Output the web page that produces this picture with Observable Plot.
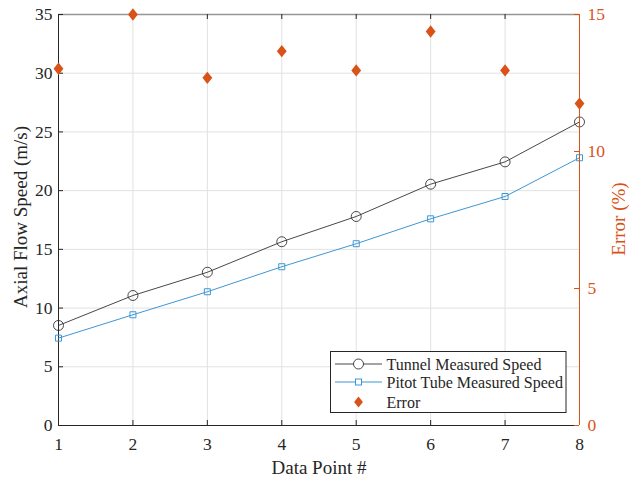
<!DOCTYPE html>
<html><head><meta charset="utf-8">
<script src="https://cdn.jsdelivr.net/npm/d3@7"></script>
<script src="https://cdn.jsdelivr.net/npm/@observablehq/plot@0.6"></script>
<style>
body{margin:0;background:#fff;}
#wrap{position:relative;width:629px;height:479px;font-family:'Liberation Serif','Times New Roman',serif;}
#wrap > svg{position:absolute;left:0;top:0;}
#wrap text{font-family:'Liberation Serif','Times New Roman',serif;}
</style></head><body><div id="wrap"></div>
<script>
// ---- data ----
const points   = [1, 2, 3, 4, 5, 6, 7, 8];
const tunnel   = [8.52, 11.07, 13.05, 15.65, 17.8, 20.55, 22.45, 25.85];
const pitot    = [7.44, 9.43, 11.39, 13.52, 15.48, 17.6, 19.5, 22.8];
const errorPct = [13.02, 15.0, 12.69, 13.66, 12.96, 14.38, 12.96, 11.75];
const speedTicks = [0, 5, 10, 15, 20, 25, 30, 35];
const errorTicks = [0, 5, 10, 15];
const xLabel = "Data Point #";
const yLabelLeft = "Axial Flow Speed (m/s)";
const yLabelRight = "Error (%)";
const seriesNames = ["Tunnel Measured Speed", "Pitot Tube Measured Speed", "Error"];

// ---- layout/style ----
const W = 629, H = 479, mL = 58, mR = 50, mT = 14, mB = 54;
const pW = W - mL - mR, pH = H - mT - mB;
const ORANGE = "#D95319", BLUE = "#3d97d6", DARK = "#262626", GRID = "#e1e1e1";
const FONT = "'Liberation Serif', 'Times New Roman', serif";

const tunnelData = points.map((p, i) => ({p, v: tunnel[i]}));
const pitotData = points.map((p, i) => ({p, v: pitot[i]}));
const errData = points.map((p, i) => ({p, v: errorPct[i]}));

const diamond = {
  draw(ctx, size) {
    const h = Math.sqrt(size) * 0.62, w = h * 0.8;
    ctx.moveTo(0, -h); ctx.lineTo(w, 0); ctx.lineTo(0, h); ctx.lineTo(-w, 0); ctx.closePath();
  }
};

const common = {
  width: W, height: H, marginLeft: mL, marginRight: mR, marginTop: mT, marginBottom: mB,
  style: {"font-family": FONT, "background": "transparent", "overflow": "visible"}
};

const left = Plot.plot({
  ...common,
  x: {domain: [1, 8]},
  y: {domain: [0, 35]},
  marks: [
    Plot.ruleX(points, {x: d => d, stroke: GRID}),
    Plot.ruleY(speedTicks, {y: d => d, stroke: GRID}),
    Plot.ruleY([35], {y: d => d, stroke: "#969696", strokeWidth: 1.5}),
    Plot.tickX(points, {x: d => d, stroke: DARK, insetTop: pH - 5}),
    Plot.tickX(points, {x: d => d, stroke: DARK, insetBottom: pH - 5}),
    Plot.tickY(speedTicks, {y: d => d, stroke: DARK, insetRight: pW - 5}),
    Plot.ruleX([1], {x: d => d, stroke: DARK}),
    Plot.ruleY([0], {y: d => d, stroke: DARK}),
    Plot.axisX(points, {tickSize: 0, tickPadding: 12, fontSize: 17.5, fill: DARK, label: null}),
    Plot.axisY(speedTicks, {tickSize: 0, tickPadding: 6, fontSize: 17.5, fill: DARK, label: null}),
    Plot.text([xLabel], {frameAnchor: "bottom", dy: 48, text: d => d, fontSize: 19, fill: DARK, lineAnchor: "bottom", textAnchor: "middle"}),
    Plot.text([yLabelLeft], {frameAnchor: "left", dx: -38, dy: -3, rotate: -90, text: d => d, fontSize: 19, fill: DARK, textAnchor: "middle", lineAnchor: "middle"}),
    Plot.line(pitotData, {x: "p", y: "v", stroke: BLUE, strokeWidth: 1}),
    Plot.dot(pitotData, {x: "p", y: "v", symbol: "square", r: 3.4, stroke: BLUE, fill: "none", strokeWidth: 1}),
    Plot.line(tunnelData, {x: "p", y: "v", stroke: "#333", strokeWidth: 0.9}),
    Plot.dot(tunnelData, {x: "p", y: "v", r: 5, stroke: "#333", fill: "none", strokeWidth: 0.9})
  ]
});

const right = Plot.plot({
  ...common,
  x: {domain: [1, 8], axis: null},
  y: {domain: [0, 15], axis: null},
  marks: [
    Plot.ruleX([8], {x: d => d, stroke: ORANGE}),
    Plot.tickY(errorTicks, {y: d => d, stroke: ORANGE, insetLeft: pW - 5}),
    Plot.axisY(errorTicks, {anchor: "right", tickSize: 0, tickPadding: 8, fontSize: 17.5, fill: ORANGE, label: null}),
    Plot.text([yLabelRight], {frameAnchor: "right", dx: 39, dy: -1, rotate: -90, text: d => d, fontSize: 19, fill: ORANGE, textAnchor: "middle", lineAnchor: "middle"}),
    Plot.dot(errData, {x: "p", y: "v", symbol: diamond, r: 5.6, fill: ORANGE, stroke: "none"})
  ]
});

const wrap = document.getElementById("wrap");
wrap.appendChild(left);
wrap.appendChild(right);

// ---- legend ----
const lg = d3.select(wrap).append("svg").attr("width", W).attr("height", H)
  .style("position", "absolute").style("left", 0).style("top", 0);
const bx = 330.5, by = 351.5, bw = 235.5, bh = 61;
lg.append("rect").attr("x", bx).attr("y", by).attr("width", bw).attr("height", bh)
  .attr("fill", "#fff").attr("stroke", DARK).attr("stroke-width", 1);
const rows = [364, 382, 402];
const lx1 = 335, lx2 = 382, mx = 358.5, tx = 386.5;
lg.append("line").attr("x1", lx1).attr("x2", lx2).attr("y1", rows[0]).attr("y2", rows[0]).attr("stroke", "#333").attr("stroke-width", 0.9);
lg.append("circle").attr("cx", mx).attr("cy", rows[0]).attr("r", 5).attr("fill", "#fff").attr("stroke", "#333").attr("stroke-width", 0.9);
lg.append("line").attr("x1", lx1).attr("x2", lx2).attr("y1", rows[1]).attr("y2", rows[1]).attr("stroke", BLUE).attr("stroke-width", 1);
lg.append("rect").attr("x", mx - 3).attr("y", rows[1] - 3).attr("width", 6).attr("height", 6).attr("fill", "#fff").attr("stroke", BLUE);
lg.append("path").attr("d", `M${mx},${rows[2]-5.5}L${mx+4.4},${rows[2]}L${mx},${rows[2]+5.5}L${mx-4.4},${rows[2]}Z`).attr("fill", ORANGE);
seriesNames.forEach((t, i) => {
  lg.append("text").attr("x", tx).attr("y", rows[i]).attr("dy", "0.35em")
    .attr("font-family", FONT).attr("font-size", 16).attr("fill", DARK).text(t);
});
</script></body></html>
